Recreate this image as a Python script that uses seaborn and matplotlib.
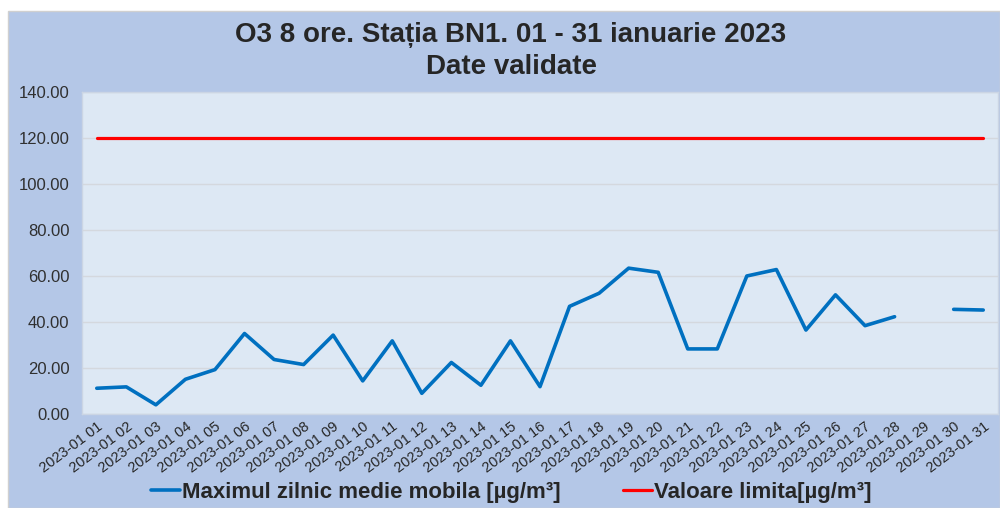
import numpy as np
import pandas as pd
import matplotlib.pyplot as plt
from matplotlib.lines import Line2D
from matplotlib.patches import Rectangle
import seaborn as sns

days = [f'2023-01 {d:02d}' for d in range(1, 32)]
o3_max = [11.2, 11.8, 4.0, 15.1, 19.3, 35.0, 23.7, 21.5, 34.3, 14.4,
          31.8, 9.0, 22.4, 12.5, 31.8, 11.9, 46.8, 52.5, 63.4, 61.6,
          28.3, 28.3, 60.0, 62.8, 36.5, 51.8, 38.4, 42.3, np.nan, 45.5, 45.2]
limit = [120.0] * 31

df = pd.DataFrame({'day': range(31), 'o3': o3_max, 'limit': limit})
# split the series at the missing day so the line has a gap
df['seg'] = df['o3'].isna().cumsum()
df_o3 = df.dropna(subset=['o3'])

sns.set_style('white')
plt.rcParams['font.family'] = ['Liberation Sans', 'DejaVu Sans']

fig = plt.figure(figsize=(10, 5.08), dpi=100)
fig.patch.set_facecolor('white')
fig.add_artist(Rectangle((0.008, 0), 0.992, 0.978, transform=fig.transFigure,
                         facecolor='#b4c7e7', edgecolor='#d0d0d0', lw=1, zorder=-10))

ax = fig.add_axes([0.082, 0.185, 0.916, 0.634])
ax.set_facecolor('#dde8f4')

sns.lineplot(data=df, x='day', y='limit', color='#ff0000', linewidth=2.3, ax=ax)
sns.lineplot(data=df_o3, x='day', y='o3', units='seg', estimator=None,
             color='#0070c0', linewidth=2.6, ax=ax)

ax.set_xlim(-0.5, 30.5)
ax.set_ylim(0, 140)
ax.set_yticks(np.arange(0, 141, 20))
ax.set_yticklabels([f'{v:.2f}' for v in np.arange(0, 141, 20)], fontsize=12, color='#303030')
ax.set_xticks(range(31))
ax.set_xticklabels(days, rotation=37, ha='right', rotation_mode='anchor',
                   fontsize=10.5, color='#262626')
ax.tick_params(axis='y', length=0, pad=9)
ax.tick_params(axis='x', length=0, pad=4)
ax.grid(axis='y', color='#d4d8de', linewidth=1)
ax.set_axisbelow(True)
ax.set_xlabel('')
ax.set_ylabel('')
for s in ax.spines.values():
    s.set_color('#cbd5e4')
    s.set_linewidth(1)

fig.text(0.511, 0.90, 'O3 8 ore. Stația BN1. 01 - 31 ianuarie 2023\nDate validate',
         ha='center', va='center', fontsize=20, fontweight='bold', linespacing=1.3)

handles = [Line2D([0], [0], color='#0070c0', lw=2.6),
           Line2D([0], [0], color='#ff0000', lw=2.3)]
fig.legend(handles, ['Maximul zilnic medie mobila [µg/m³]', 'Valoare limita[µg/m³]'],
           loc='center', bbox_to_anchor=(0.511, 0.03), ncol=2, frameon=False,
           prop={'weight': 'bold', 'size': 16}, handlelength=1.3, handletextpad=0.1,
           columnspacing=2.8, borderpad=0.1)

fig.savefig('out.png', dpi=100, facecolor=fig.get_facecolor())
